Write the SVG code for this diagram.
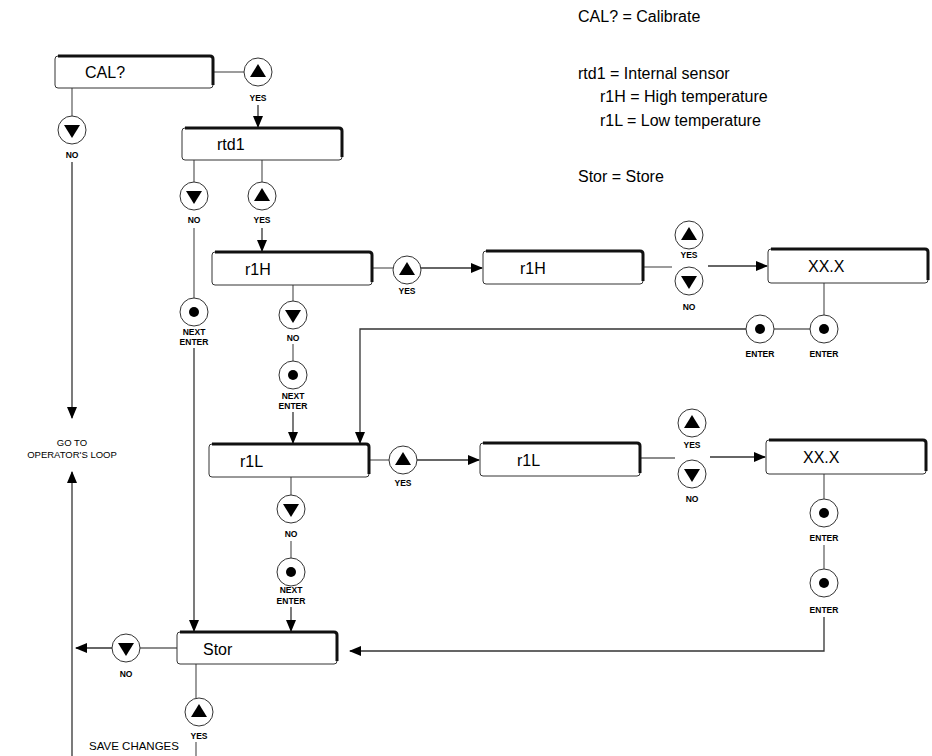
<svg xmlns="http://www.w3.org/2000/svg" width="932" height="756" viewBox="0 0 932 756">
<defs>
<marker id="ah" markerWidth="12" markerHeight="10" refX="11" refY="5" orient="auto" markerUnits="userSpaceOnUse"><path d="M0,0 L12,5 L0,10 Z" fill="#000"/></marker>
<g id="up"><circle r="14" fill="#fff" stroke="#333" stroke-width="1"/><path d="M0,-8 L8,5 L-8,5 Z" fill="#000"/></g>
<g id="dn"><circle r="14" fill="#fff" stroke="#333" stroke-width="1"/><path d="M0,8 L8,-5 L-8,-5 Z" fill="#000"/></g>
<g id="dot"><circle r="14" fill="#fff" stroke="#333" stroke-width="1"/><circle r="5" fill="#000"/></g>
</defs>
<style>
.box{fill:#fff;stroke:#333;stroke-width:1}
.sh{fill:none;stroke:#111;stroke-width:3}
.bt{font-family:"Liberation Sans",Arial,sans-serif;font-size:16px;fill:#000}
.lb{font-family:"Liberation Sans",Arial,sans-serif;font-size:8.5px;font-weight:bold;fill:#000;text-anchor:middle}
.lg{font-family:"Liberation Sans",Arial,sans-serif;font-size:16px;fill:#000}
.gt{font-family:"Liberation Sans",Arial,sans-serif;font-size:9.5px;fill:#000;text-anchor:middle}
.ln{fill:none;stroke:#666;stroke-width:1.3}
.ar{fill:none;stroke:#333;stroke-width:1.3;marker-end:url(#ah)}
</style>
<rect width="932" height="756" fill="#fff"/>

<g id="legend">
<text class="lg" x="578" y="22">CAL? = Calibrate</text>
<text class="lg" x="578" y="79">rtd1 = Internal sensor</text>
<text class="lg" x="600" y="102">r1H = High temperature</text>
<text class="lg" x="600" y="126">r1L = Low temperature</text>
<text class="lg" x="578" y="182">Stor = Store</text>
</g>

<g id="connectors">
<path class="ln" d="M213,72 H244"/>
<path class="ar" d="M258,105 V127"/>
<path class="ln" d="M72,88 V116"/>
<path class="ar" d="M72,162 V418"/>
<path class="ar" d="M72,756 V472"/>
<path class="ln" d="M194,160 V182"/>
<path class="ln" d="M194,228 V298"/>
<path class="ar" d="M194,348 V631"/>
<path class="ln" d="M262,160 V182"/>
<path class="ar" d="M262,228 V251"/>
<path class="ln" d="M372,268 H393"/>
<path class="ar" d="M421,268 H482"/>
<path class="ln" d="M643,267 H672"/>
<path class="ar" d="M708,266 H767"/>
<path class="ln" d="M824,283 V315"/>
<path class="ln" d="M774,329 H810"/>
<path class="ar" d="M746,329 H360 V443"/>
<path class="ln" d="M293,285 V301"/>
<path class="ln" d="M293,344 V361"/>
<path class="ar" d="M293,412 V443"/>
<path class="ln" d="M369,460 H389"/>
<path class="ar" d="M417,460 H479"/>
<path class="ln" d="M640,458 H675"/>
<path class="ar" d="M710,457 H765"/>
<path class="ln" d="M824,474 V499"/>
<path class="ln" d="M824,545 V569"/>
<path class="ar" d="M824,617 V651 H350"/>
<path class="ln" d="M291,477 V495"/>
<path class="ln" d="M291,541 V558"/>
<path class="ar" d="M291,607 V631"/>
<path class="ln" d="M177,648 H140"/>
<path class="ar" d="M112,648 H76"/>
<path class="ln" d="M196,664 V698"/>
<path class="ln" d="M196,742 V756"/>
</g>

<g id="cal">
<rect class="box" x="55" y="56" width="158" height="32" rx="3"/>
<path class="sh" d="M58,56 H210 Q213,56 213,59 V85"/>
<text class="bt" x="85" y="78">CAL?</text>
</g>
<g id="cal-yes"><use href="#up" x="258" y="72"/><text class="lb" x="258" y="101">YES</text></g>
<g id="cal-no"><use href="#dn" x="72" y="130"/><text class="lb" x="72" y="158">NO</text></g>
<g id="goto"><text class="gt" x="72" y="446">GO TO</text><text class="gt" x="72" y="458">OPERATOR'S LOOP</text></g>

<g id="rtd1">
<rect class="box" x="182" y="128" width="160" height="32" rx="3"/>
<path class="sh" d="M185,128 H339 Q342,128 342,131 V157"/>
<text class="bt" x="217" y="150">rtd1</text>
</g>
<g id="rtd1-no"><use href="#dn" x="194" y="196"/><text class="lb" x="194" y="223">NO</text></g>
<g id="rtd1-yes"><use href="#up" x="262" y="196"/><text class="lb" x="262" y="223">YES</text></g>
<g id="rtd1-next"><use href="#dot" x="194" y="312"/><text class="lb" x="194" y="335">NEXT</text><text class="lb" x="194" y="345">ENTER</text></g>

<g id="r1h">
<rect class="box" x="212" y="252" width="160" height="33" rx="3"/>
<path class="sh" d="M215,252 H369 Q372,252 372,255 V282"/>
<text class="bt" x="245" y="275">r1H</text>
</g>
<g id="r1h-yes"><use href="#up" x="407" y="270"/><text class="lb" x="407" y="294">YES</text></g>
<g id="r1h-no"><use href="#dn" x="293" y="315"/><text class="lb" x="293" y="341">NO</text></g>
<g id="r1h-next"><use href="#dot" x="293" y="375"/><text class="lb" x="293" y="399">NEXT</text><text class="lb" x="293" y="409">ENTER</text></g>

<g id="r1h2">
<rect class="box" x="483" y="251" width="160" height="33" rx="3"/>
<path class="sh" d="M486,251 H640 Q643,251 643,254 V281"/>
<text class="bt" x="520" y="274">r1H</text>
</g>
<g id="r1h2-yes"><use href="#up" x="689" y="235"/><text class="lb" x="689" y="258">YES</text></g>
<g id="r1h2-no"><use href="#dn" x="689" y="281"/><text class="lb" x="689" y="310">NO</text></g>

<g id="xxh">
<rect class="box" x="768" y="249" width="160" height="34" rx="3"/>
<path class="sh" d="M771,249 H925 Q928,249 928,252 V280"/>
<text class="bt" x="808" y="272">XX.X</text>
</g>
<g id="xxh-enter1"><use href="#dot" x="824" y="329"/><text class="lb" x="824" y="357">ENTER</text></g>
<g id="xxh-enter2"><use href="#dot" x="760" y="329"/><text class="lb" x="760" y="357">ENTER</text></g>

<g id="r1l">
<rect class="box" x="209" y="444" width="160" height="33" rx="3"/>
<path class="sh" d="M212,444 H366 Q369,444 369,447 V474"/>
<text class="bt" x="240" y="467">r1L</text>
</g>
<g id="r1l-yes"><use href="#up" x="403" y="460"/><text class="lb" x="403" y="486">YES</text></g>
<g id="r1l-no"><use href="#dn" x="291" y="509"/><text class="lb" x="291" y="537">NO</text></g>
<g id="r1l-next"><use href="#dot" x="291" y="572"/><text class="lb" x="291" y="593">NEXT</text><text class="lb" x="291" y="604">ENTER</text></g>

<g id="r1l2">
<rect class="box" x="480" y="443" width="160" height="33" rx="3"/>
<path class="sh" d="M483,443 H637 Q640,443 640,446 V473"/>
<text class="bt" x="517" y="466">r1L</text>
</g>
<g id="r1l2-yes"><use href="#up" x="692" y="423"/><text class="lb" x="692" y="448">YES</text></g>
<g id="r1l2-no"><use href="#dn" x="692" y="474"/><text class="lb" x="692" y="502">NO</text></g>

<g id="xxl">
<rect class="box" x="766" y="440" width="160" height="34" rx="3"/>
<path class="sh" d="M769,440 H923 Q926,440 926,443 V471"/>
<text class="bt" x="803" y="463">XX.X</text>
</g>
<g id="xxl-enter1"><use href="#dot" x="824" y="513"/><text class="lb" x="824" y="541">ENTER</text></g>
<g id="xxl-enter2"><use href="#dot" x="824" y="583"/><text class="lb" x="824" y="613">ENTER</text></g>

<g id="stor">
<rect class="box" x="177" y="632" width="160" height="32" rx="3"/>
<path class="sh" d="M180,632 H334 Q337,632 337,635 V661"/>
<text class="bt" x="203" y="655">Stor</text>
</g>
<g id="stor-no"><use href="#dn" x="126" y="648"/><text class="lb" x="126" y="677">NO</text></g>
<g id="stor-yes"><use href="#up" x="199" y="712"/><text class="lb" x="199" y="739">YES</text></g>
<text class="gt" x="134" y="750" style="font-size:11.5px">SAVE CHANGES</text>
</svg>
